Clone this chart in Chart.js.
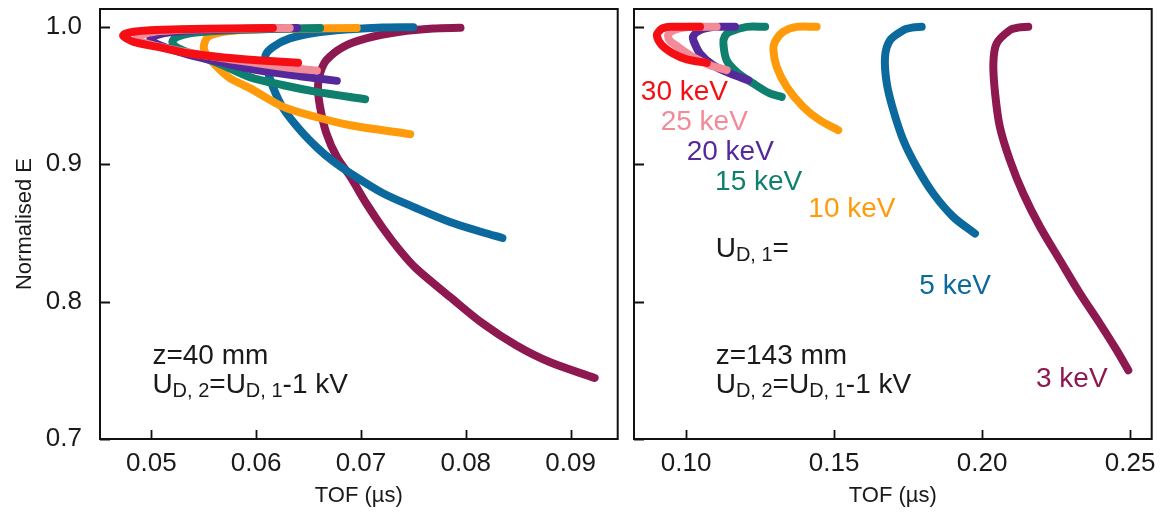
<!DOCTYPE html>
<html>
<head>
<meta charset="utf-8">
<script src="https://cdn.jsdelivr.net/npm/chart.js@4.4.0/dist/chart.umd.min.js"></script>
<style>
  html, body { margin: 0; padding: 0; background: #fff; }
  #wrap { position: relative; width: 1166px; height: 518px; }
  canvas { position: absolute; top: 0; }
  #leftChart { left: 0; }
  #rightChart { left: 625px; }
</style>
</head>
<body>
<div id="wrap">
  <canvas id="leftChart" width="625" height="518"></canvas>
  <canvas id="rightChart" width="541" height="518"></canvas>
</div>
<script>
// -------------------------
// Series names / colours
// -------------------------
const energyLabels = ["30 keV", "25 keV", "20 keV", "15 keV", "10 keV", "5 keV", "3 keV"];
const energyColors = ["#f50f14", "#f28a98", "#55299b", "#0f806e", "#ff9b0a", "#0b699d", "#8e1850"];

const yTicks = [0.7, 0.8, 0.9, 1.0];

// -------------------------
// z = 40 mm  (TOF in µs, normalised E)
// -------------------------
const tof40_30 = [0.0616, 0.0575, 0.0528, 0.0499, 0.0483, 0.0475, 0.0473, 0.0476, 0.0483, 0.0506, 0.0537, 0.0569, 0.0601, 0.0640];
const e40_30   = [0.9991, 0.9988, 0.9983, 0.9976, 0.9965, 0.9950, 0.9936, 0.9918, 0.9891, 0.9854, 0.9806, 0.9777, 0.9757, 0.9738];

const tof40_25 = [0.0632, 0.0585, 0.0537, 0.0508, 0.0494, 0.0487, 0.0486, 0.0489, 0.0499, 0.0523, 0.0556, 0.0594, 0.0628, 0.0658];
const e40_25   = [0.9991, 0.9987, 0.9981, 0.9969, 0.9950, 0.9932, 0.9921, 0.9896, 0.9870, 0.9830, 0.9787, 0.9743, 0.9706, 0.9681];

const tof40_20 = [0.0639, 0.0594, 0.0547, 0.0518, 0.0505, 0.0499, 0.0502, 0.0513, 0.0537, 0.0566, 0.0601, 0.0642, 0.0677];
const e40_20   = [0.9991, 0.9987, 0.9977, 0.9961, 0.9940, 0.9914, 0.9889, 0.9852, 0.9794, 0.9743, 0.9685, 0.9641, 0.9607];

const tof40_15 = [0.0661, 0.0613, 0.0566, 0.0537, 0.0524, 0.0520, 0.0524, 0.0542, 0.0566, 0.0594, 0.0626, 0.0658, 0.0704];
const e40_15   = [0.9991, 0.9985, 0.9972, 0.9954, 0.9925, 0.9891, 0.9852, 0.9794, 0.9728, 0.9634, 0.9575, 0.9527, 0.9473];

const tof40_10 = [0.0696, 0.0642, 0.0601, 0.0569, 0.0554, 0.0550, 0.0553, 0.0561, 0.0575, 0.0594, 0.0626, 0.0658, 0.0690, 0.0747];
const e40_10   = [0.9991, 0.9987, 0.9983, 0.9964, 0.9927, 0.9854, 0.9794, 0.9721, 0.9626, 0.9554, 0.9417, 0.9342, 0.9284, 0.9219];

const tof40_5 = [0.0750, 0.0721, 0.0690, 0.0658, 0.0632, 0.0616, 0.0609, 0.0610, 0.0616, 0.0626, 0.0642, 0.0658, 0.0673, 0.0690, 0.0721, 0.0753, 0.0785, 0.0816, 0.0835];
const e40_5   = [0.9998, 0.9996, 0.9983, 0.9959, 0.9916, 0.9854, 0.9794, 0.9709, 0.9563, 0.9405, 0.9248, 0.9122, 0.9024, 0.8934, 0.8789, 0.8680, 0.8580, 0.8505, 0.8463];

const tof40_3 = [0.0795, 0.0769, 0.0737, 0.0705, 0.0683, 0.0667, 0.0661, 0.0659, 0.0661, 0.0667, 0.0677, 0.0690, 0.0705, 0.0721, 0.0737, 0.0753, 0.0785, 0.0816, 0.0848, 0.0880, 0.0923];
const e40_3   = [0.9993, 0.9988, 0.9964, 0.9916, 0.9854, 0.9757, 0.9661, 0.9563, 0.9417, 0.9226, 0.9053, 0.8908, 0.8716, 0.8534, 0.8374, 0.8239, 0.8034, 0.7842, 0.7682, 0.7560, 0.7444];

// -------------------------
// z = 143 mm
// -------------------------
const tof143_30 = [0.1047, 0.0996, 0.0946, 0.0922, 0.0912, 0.0901, 0.0918, 0.0956, 0.1002, 0.1070];
const e143_30   = [1.0000, 1.0000, 1.0000, 0.9991, 0.9976, 0.9940, 0.9867, 0.9806, 0.9763, 0.9738];

const tof143_25 = [0.1103, 0.1013, 0.0970, 0.0945, 0.0939, 0.0945, 0.0973, 0.1023, 0.1081, 0.1137];
const e143_25   = [1.0000, 1.0000, 0.9985, 0.9960, 0.9935, 0.9900, 0.9854, 0.9781, 0.9721, 0.9685];

const tof143_20 = [0.1165, 0.1098, 0.1047, 0.1023, 0.1030, 0.1047, 0.1091, 0.1148, 0.1210];
const e143_20   = [1.0000, 1.0000, 0.9976, 0.9927, 0.9874, 0.9806, 0.9721, 0.9661, 0.9612];

const tof143_15 = [0.1267, 0.1205, 0.1148, 0.1131, 0.1126, 0.1137, 0.1171, 0.1227, 0.1283, 0.1323];
const e143_15   = [1.0000, 1.0000, 0.9964, 0.9932, 0.9879, 0.9757, 0.9672, 0.9588, 0.9515, 0.9490];

const tof143_10 = [0.1441, 0.1374, 0.1328, 0.1300, 0.1295, 0.1306, 0.1340, 0.1396, 0.1452, 0.1514];
const e143_10   = [1.0000, 1.0000, 0.9964, 0.9891, 0.9830, 0.9709, 0.9563, 0.9417, 0.9320, 0.9248];

const tof143_5 = [0.1796, 0.1763, 0.1734, 0.1689, 0.1672, 0.1678, 0.1700, 0.1734, 0.1779, 0.1835, 0.1903, 0.1976];
const e143_5   = [1.0000, 0.9994, 0.9976, 0.9903, 0.9782, 0.9588, 0.9393, 0.9175, 0.8980, 0.8787, 0.8616, 0.8495];

const tof143_3 = [0.2156, 0.2121, 0.2094, 0.2049, 0.2038, 0.2044, 0.2060, 0.2094, 0.2139, 0.2196, 0.2263, 0.2331, 0.2398, 0.2455, 0.2494];
const e143_3   = [1.0000, 0.9994, 0.9976, 0.9879, 0.9733, 0.9515, 0.9272, 0.9029, 0.8787, 0.8543, 0.8301, 0.8058, 0.7840, 0.7645, 0.7500];

const FONT = "'Liberation Sans', Arial, sans-serif";
const TEXT_COLOR = "#1a1a1a";
const NOTE_SIZE = 28;

// -------------------------
// Helpers
// -------------------------
function zip(xs, ys) {
  return xs.map((x, i) => ({ x: x, y: ys[i] }));
}

function makeDatasets(pairs) {
  return pairs.map(([xs, ys], i) => ({
    label: energyLabels[i],
    data: zip(xs, ys),
    showLine: true,
    borderColor: energyColors[i],
    backgroundColor: energyColors[i],
    borderWidth: 8,
    pointRadius: 0,
    tension: 0.3,
    borderCapStyle: "round",
    borderJoinStyle: "round"
  }));
}

// text with optional subscripts: parts = [[text, isSub], ...]
function drawRich(ctx, x, y, parts, color, size) {
  let cx = x;
  ctx.fillStyle = color;
  ctx.textBaseline = "alphabetic";
  ctx.textAlign = "left";
  parts.forEach(([txt, sub]) => {
    ctx.font = (sub ? Math.round(size * 0.72) : size) + "px " + FONT;
    ctx.fillText(txt, cx, sub ? y + 4 : y);
    cx += ctx.measureText(txt).width;
  });
}

// frame + inward tick marks
const framePlugin = {
  id: "frame",
  afterDraw(chart) {
    const { ctx, chartArea: a, scales } = chart;
    ctx.save();
    ctx.strokeStyle = "#111";
    ctx.lineWidth = 2;
    ctx.strokeRect(a.left, a.top, a.right - a.left, a.bottom - a.top);
    ctx.lineWidth = 1.8;
    ctx.beginPath();
    scales.x.ticks.forEach(t => {
      const px = Math.round(scales.x.getPixelForValue(t.value)) + 0.5;
      ctx.moveTo(px, a.bottom);
      ctx.lineTo(px, a.bottom - 9);
    });
    scales.y.ticks.forEach(t => {
      const py = Math.round(scales.y.getPixelForValue(t.value)) + 0.5;
      ctx.moveTo(a.left, py);
      ctx.lineTo(a.left + 10, py);
    });
    ctx.stroke();
    ctx.restore();
  }
};

// annotations placed in data coordinates
const notesPlugin = {
  id: "notes",
  afterDatasetsDraw(chart, args, opts) {
    const { ctx, scales } = chart;
    ctx.save();
    (opts.items || []).forEach(n => {
      const px = scales.x.getPixelForValue(n.x);
      const py = scales.y.getPixelForValue(n.y);
      drawRich(ctx, px, py, n.parts, n.color || TEXT_COLOR, NOTE_SIZE);
    });
    ctx.restore();
  }
};

function makeChart(canvasId, pairs, xr, yWidth, padRight, showYLabels, notes) {
  return new Chart(document.getElementById(canvasId), {
    type: "scatter",
    data: { datasets: makeDatasets(pairs) },
    plugins: [framePlugin, notesPlugin],
    options: {
      responsive: false,
      animation: false,
      devicePixelRatio: 1,
      layout: { padding: { top: 9, right: padRight, bottom: 0, left: 0 } },
      plugins: {
        legend: { display: false },
        tooltip: { enabled: false },
        notes: { items: notes }
      },
      scales: {
        x: {
          type: "linear",
          min: xr.min,
          max: xr.max,
          grid: { display: false, drawTicks: false },
          border: { display: false },
          ticks: {
            stepSize: xr.step,
            includeBounds: false,
            padding: 9,
            color: TEXT_COLOR,
            font: { family: FONT, size: 26 },
            maxRotation: 0,
            autoSkip: false,
            callback: v => v.toFixed(2)
          },
          title: {
            display: true,
            text: "TOF (µs)",
            color: TEXT_COLOR,
            font: { family: FONT, size: 22 },
            padding: { top: 0, bottom: 9 }
          },
          afterFit: s => { s.height = 79; s.paddingLeft = 0; s.paddingRight = 0; }
        },
        y: {
          type: "linear",
          min: 0.7,
          max: 1.013,
          grid: { display: false, drawTicks: false },
          border: { display: false },
          afterBuildTicks: s => { s.ticks = yTicks.map(v => ({ value: v })); },
          ticks: {
            display: showYLabels,
            padding: 18,
            color: TEXT_COLOR,
            font: { family: FONT, size: 26 },
            callback: v => v.toFixed(1)
          },
          title: {
            display: showYLabels,
            text: "Normalised E",
            color: TEXT_COLOR,
            font: { family: FONT, size: 22 },
            padding: { top: 12, bottom: 0 }
          },
          afterFit: s => { s.width = yWidth; s.paddingTop = 0; s.paddingBottom = 0; }
        }
      }
    }
  });
}

const condLine = [["U", false], ["D, 2", true], ["=U", false], ["D, 1", true], ["-1 kV", false]];

makeChart("leftChart",
  [[tof40_30, e40_30], [tof40_25, e40_25], [tof40_20, e40_20], [tof40_15, e40_15],
   [tof40_10, e40_10], [tof40_5, e40_5], [tof40_3, e40_3]],
  { min: 0.0451, max: 0.0945, step: 0.01 }, 100, 7.3, true,
  [
    { x: 0.0501, y: 0.7543, parts: [["z=40 mm", false]] },
    { x: 0.0501, y: 0.7332, parts: condLine }
  ]);

makeChart("rightChart",
  [[tof143_30, e143_30], [tof143_25, e143_25], [tof143_20, e143_20], [tof143_15, e143_15],
   [tof143_10, e143_10], [tof143_5, e143_5], [tof143_3, e143_3]],
  { min: 0.0824, max: 0.2573, step: 0.05 }, 9, 14.3, false,
  [
    { x: 0.0847, y: 0.9466, parts: [["30 keV", false]], color: energyColors[0] },
    { x: 0.0914, y: 0.9248, parts: [["25 keV", false]], color: energyColors[1] },
    { x: 0.1002, y: 0.9029, parts: [["20 keV", false]], color: energyColors[2] },
    { x: 0.1098, y: 0.8811, parts: [["15 keV", false]], color: energyColors[3] },
    { x: 0.1413, y: 0.8616, parts: [["10 keV", false]], color: energyColors[4] },
    { x: 0.1788, y: 0.8058, parts: [["5 keV", false]], color: energyColors[5] },
    { x: 0.2182, y: 0.7378, parts: [["3 keV", false]], color: energyColors[6] },
    { x: 0.1100, y: 0.8323, parts: [["U", false], ["D, 1", true], ["=", false]] },
    { x: 0.1100, y: 0.7543, parts: [["z=143 mm", false]] },
    { x: 0.1100, y: 0.7332, parts: condLine }
  ]);
</script>
</body>
</html>
